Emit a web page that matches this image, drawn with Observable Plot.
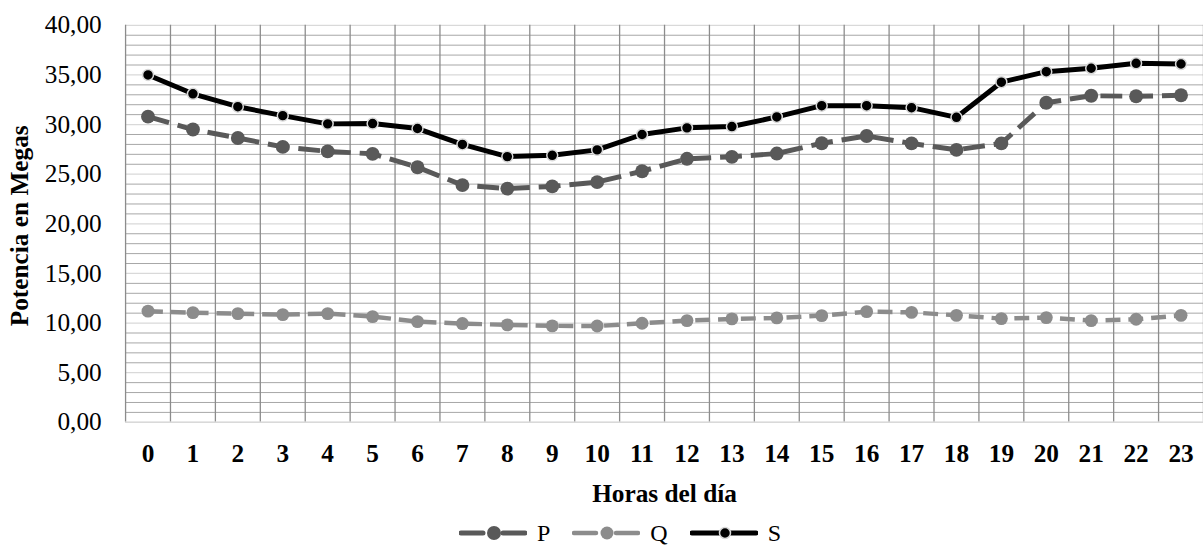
<!DOCTYPE html>
<html>
<head>
<meta charset="utf-8">
<script src="https://cdn.jsdelivr.net/npm/d3@7"></script>
<script src="https://cdn.jsdelivr.net/npm/@observablehq/plot@0.6"></script>
<style>
  html, body { margin: 0; padding: 0; background: #fff; overflow: hidden; }
  #wrap { position: relative; width: 1203px; height: 547px; overflow: hidden; font-family: "Liberation Serif", "Times New Roman", serif; }
  #chart svg text { font-family: "Liberation Serif", "Times New Roman", serif !important; font-variant: normal !important; }
  #legend { position: absolute; left: 459px; top: 520px; height: 26px; display: flex; align-items: center; font-size: 24px; line-height: 26px; color: #000; }
  #legend .item { display: flex; align-items: center; margin-right: 22px; }
  #legend svg { display: block; margin-right: 10px; }
</style>
</head>
<body>
<div id="wrap"><div id="chart"></div><div id="legend"></div></div>
<script>
const hours = [0,1,2,3,4,5,6,7,8,9,10,11,12,13,14,15,16,17,18,19,20,21,22,23];
const P = [30.8, 29.5, 28.65, 27.75, 27.3, 27.05, 25.7, 23.9, 23.55, 23.77, 24.2, 25.3, 26.55, 26.75, 27.08, 28.12, 28.85, 28.1, 27.45, 28.1, 32.2, 32.9, 32.85, 32.95];
const Q = [11.2, 11.05, 10.95, 10.85, 10.95, 10.65, 10.15, 9.95, 9.82, 9.72, 9.7, 9.98, 10.25, 10.42, 10.52, 10.75, 11.15, 11.08, 10.78, 10.45, 10.55, 10.25, 10.38, 10.78];
const S = [35.0, 33.1, 31.8, 30.9, 30.07, 30.1, 29.6, 28.0, 26.77, 26.9, 27.45, 29.0, 29.67, 29.8, 30.77, 31.9, 31.9, 31.7, 30.73, 34.27, 35.33, 35.67, 36.17, 36.1];
const yTicks = [0, 5, 10, 15, 20, 25, 30, 35, 40];
const seriesNames = ["P", "Q", "S"];

const FONT = "'Liberation Serif', 'Times New Roman', serif";
const FS = 25.5;

const styles = {
  P: {stroke: "#595959", dash: "22,9", width: 5, r: 7, fill: "#595959", mstroke: "none"},
  Q: {stroke: "#8c8c8c", dash: "15,8", width: 4.5, r: 6.5, fill: "#8c8c8c", mstroke: "none"},
  S: {stroke: "#000000", dash: null, width: 5, r: 5.5, fill: "#000000", mstroke: "#d9d9d9"}
};
const values = {P, Q, S};
const rows = name => hours.map((h, i) => ({hour: h, value: values[name][i]}));

const minorY = d3.range(0, 41).filter(v => v % 5 !== 0);
const bandEdges = d3.range(-0.5, 24, 1);
const fmt = v => v.toFixed(2).replace(".", ",");

const lineMarks = [];
for (const name of ["Q", "P", "S"]) {
  const st = styles[name];
  lineMarks.push(Plot.line(rows(name), {x: "hour", y: "value", stroke: st.stroke, strokeWidth: st.width, strokeDasharray: st.dash, strokeLinejoin: "round", strokeLinecap: "butt"}));
  lineMarks.push(Plot.dot(rows(name), {x: "hour", y: "value", r: st.r, fill: st.fill, stroke: st.mstroke, strokeWidth: 1.5}));
}

const chart = Plot.plot({
  width: 1212,
  height: 512,
  marginLeft: 126,
  marginRight: 0,
  marginTop: 25,
  marginBottom: 87,
  style: {fontFamily: FONT, background: "transparent", overflow: "visible"},
  x: {domain: [-0.5, 23.5], axis: null},
  y: {domain: [0, 40], axis: null},
  marks: [
    Plot.ruleY(minorY, {stroke: "#a6a6a6", strokeWidth: 1}),
    Plot.ruleY(yTicks, {stroke: "#d9d9d9", strokeWidth: 1.2}),
    Plot.ruleX(bandEdges, {stroke: "#8c8c8c", strokeWidth: 1.3}),
    Plot.ruleY([0], {stroke: "#d9d9d9", strokeWidth: 1.5}),
    Plot.axisY(yTicks, {tickSize: 0, tickPadding: 24, tickFormat: fmt, fontSize: FS, fontFamily: FONT, label: null}),
    Plot.axisX(hours, {tickSize: 0, tickPadding: 22, tickFormat: d => String(d), fontSize: FS, fontFamily: FONT, fontWeight: "bold", label: null}),
    Plot.text(["Horas del día"], {frameAnchor: "bottom", lineAnchor: "middle", dy: 72, fontSize: FS, fontFamily: FONT, fontWeight: "bold", fill: "#000"}),
    Plot.text(["Potencia en Megas"], {frameAnchor: "left", textAnchor: "middle", lineAnchor: "middle", rotate: -90, dx: -106, dy: 2, fontSize: FS, fontFamily: FONT, fontWeight: "bold", fill: "#000"}),
    ...lineMarks
  ]
});
d3.select(chart).selectAll("text").attr("fill", "#000");
document.getElementById("chart").appendChild(chart);

// Legend
const legend = d3.select("#legend");
for (const name of seriesNames) {
  const st = styles[name];
  const item = legend.append("div").attr("class", "item");
  const sw = item.append("svg").attr("width", 68).attr("height", 20);
  sw.append("line").attr("x1", 2).attr("x2", 66).attr("y1", 10).attr("y2", 10)
    .attr("stroke", st.stroke).attr("stroke-width", st.width)
    .attr("stroke-dasharray", name === "S" ? null : "22,20").attr("stroke-linecap", "round");
  sw.append("circle").attr("cx", 35).attr("cy", 10).attr("r", st.r)
    .attr("fill", st.fill).attr("stroke", st.mstroke).attr("stroke-width", 1.5);
  item.append("span").text(name);
}
</script>
</body>
</html>
